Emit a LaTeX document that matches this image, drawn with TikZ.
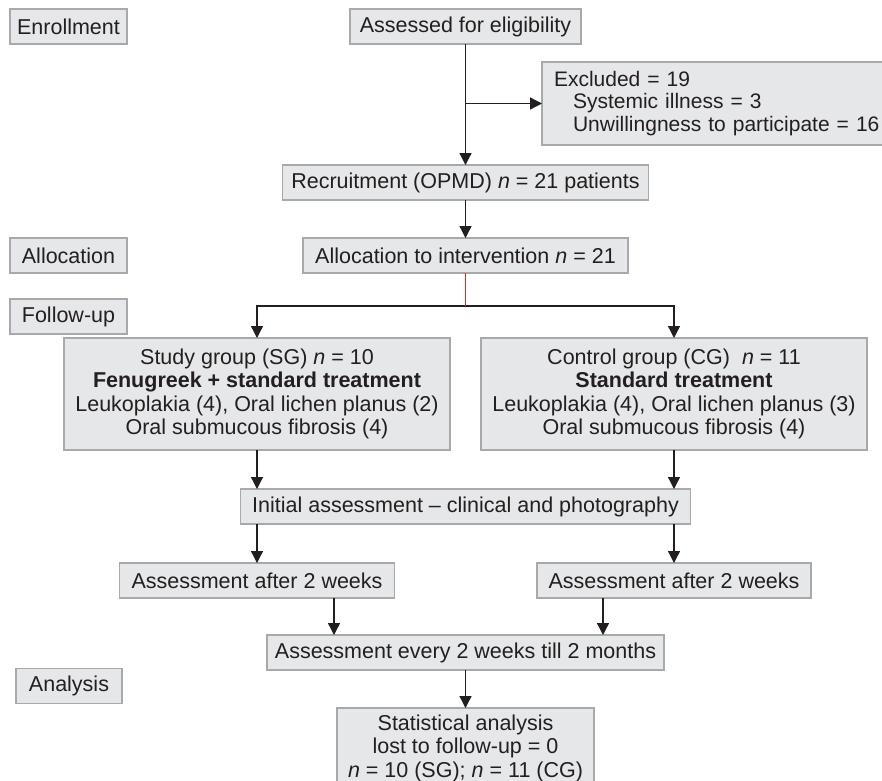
\documentclass[tikz,border=0pt]{standalone}
\usepackage{fontspec}
\setmainfont{Liberation Sans}
\usetikzlibrary{arrows.meta,positioning}
\definecolor{boxgray}{RGB}{230,231,232}
\definecolor{edgegray}{RGB}{167,169,172}
\definecolor{inkgray}{RGB}{35,31,32}
\definecolor{splitred}{RGB}{228,40,30}
\tikzset{
  flowbox/.style={draw=edgegray, fill=boxgray, line width=1.3pt, align=center,
    minimum height=35pt, inner sep=4pt, outer sep=0pt, text=inkgray,
    font=\fontsize{21.5}{23.5}\selectfont},
  stagebox/.style={flowbox, minimum width=117pt},
  flowarrow/.style={-{Triangle[length=12pt,width=12pt]}, line width=1.3pt, draw=inkgray},
  splitline/.style={line width=1.4pt, draw=splitred}
}

\begin{document}
\begin{tikzpicture}[x=1pt, y=1pt]
  \useasboundingbox (0,0) rectangle (882,-780);

  \node[stagebox] (enrol) at (68.5,-26.5) {Enrollment};
  \node[flowbox, minimum width=231pt] (assess) at (465.5,-26.5) {Assessed for eligibility};
  \node[flowbox, anchor=north west, minimum width=360pt, minimum height=83pt,
    text width=336pt, align=left, inner xsep=10pt, font=\fontsize{21}{22.5}\selectfont]
    (excl) at (542,-62)
    {Excluded = 19\\\hspace*{19pt}Systemic illness = 3\\
     \hspace*{19pt}Unwillingness to participate = 16};
  \node[flowbox, minimum width=366pt, below=121pt of assess] (recruit)
    {Recruitment (OPMD) \textit{n} = 21 patients};
  \node[flowbox, minimum width=325pt, below=38pt of recruit] (alloc)
    {Allocation to intervention \textit{n} = 21};
  \node[stagebox] (allocstage) at (enrol |- alloc) {Allocation};
  \node[stagebox, below=26pt of allocstage] (follow) {Follow-up};

  \node[flowbox, minimum width=386pt, minimum height=112pt, below=65pt of alloc,
    xshift=-208.5pt] (sg)
    {Study group (SG) \textit{n} = 10\\\textbf{Fenugreek + standard treatment}\\
     Leukoplakia (4), Oral lichen planus (2)\\Oral submucous fibrosis (4)};
  \node[flowbox, minimum width=386pt, minimum height=112pt, right=31pt of sg] (cg)
    {Control group (CG)~ \textit{n} = 11\\\textbf{Standard treatment}\\
     Leukoplakia (4), Oral lichen planus (3)\\Oral submucous fibrosis (4)};
  \node[flowbox, minimum width=450pt, anchor=north, yshift=-39pt] (initial)
    at (alloc |- sg.south) {Initial assessment -- clinical and photography};
  \node[flowbox, minimum width=275pt, anchor=north, yshift=-39pt] (weekssg)
    at (sg |- initial.south) {Assessment after 2 weeks};
  \node[flowbox, minimum width=274pt, anchor=north, yshift=-39pt] (weekscg)
    at (cg |- initial.south) {Assessment after 2 weeks};
  \node[flowbox, minimum width=397pt, anchor=north, yshift=-37pt] (every)
    at (initial |- weekssg.south) {Assessment every 2 weeks till 2 months};
  \node[stagebox, minimum width=106pt] (analysis) at (69,-686) {Analysis};
  \node[flowbox, minimum width=257pt, minimum height=80pt, below=38pt of every] (stats)
    {Statistical analysis\\lost to follow-up = 0\\
     \textit{n} = 10 (SG); \textit{n} = 11 (CG)};

  \draw[flowarrow] (assess) -- (recruit);
  \draw[flowarrow] (assess.south |- excl.west) -- (excl.west);
  \draw[flowarrow] (recruit) -- (alloc);
  \path (alloc.south) -- ++(0,-33) coordinate (split);
  \draw[flowarrow] (split) -| (sg.north);
  \draw[flowarrow] (split) -| (cg.north);
  \draw[splitline] (alloc.south) -- (split);
  \draw[flowarrow] (sg.south) -- (sg.south |- initial.north);
  \draw[flowarrow] (cg.south) -- (cg.south |- initial.north);
  \draw[flowarrow] (initial.south -| weekssg) -- (weekssg.north);
  \draw[flowarrow] (initial.south -| weekscg) -- (weekscg.north);
  \draw[flowarrow] ([xshift=77pt]weekssg.south) -- ([xshift=77pt]weekssg.south |- every.north);
  \draw[flowarrow] ([xshift=-71pt]weekscg.south) -- ([xshift=-71pt]weekscg.south |- every.north);
  \draw[flowarrow] (every) -- (stats);
\end{tikzpicture}
\end{document}
